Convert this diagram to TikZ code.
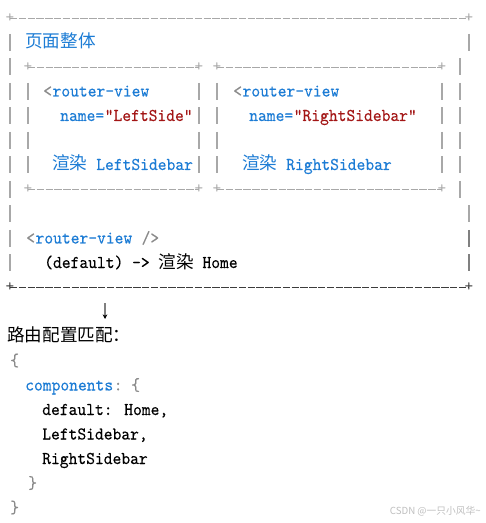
\documentclass[tikz,border=0pt]{standalone}
\usepackage{fontspec}
\usepackage{xcolor}
\usepackage{tikz}
\usetikzlibrary{arrows.meta}
\newfontfamily\cjkfont{Noto Sans CJK SC}
\newfontfamily\codefont{lmmono10-regular}[Extension=.otf,FakeStretch=0.93,FakeBold=0.2]
\newcommand{\zh}[1]{{\cjkfont\fontsize{13.2pt}{15pt}\selectfont #1}}
\definecolor{codeblue}{HTML}{1C7CD5}
\definecolor{codered}{HTML}{A31515}
\definecolor{rulegray}{HTML}{A8A8A8}
\definecolor{punctgray}{HTML}{8A8A8A}
\definecolor{darkrule}{HTML}{3C3C3C}

\begin{document}
\begin{tikzpicture}[
    x=0.75pt,y=-0.75pt,
    txt/.style={anchor=base west,inner sep=0pt,font=\codefont\fontsize{13.5pt}{15pt}\selectfont},
    corner/.style={inner sep=0pt,font=\ttfamily\fontsize{12.57pt}{15pt}\selectfont,text=rulegray},
    border/.style={draw=rulegray,line width=0.7pt,dash pattern=on 5.6pt off 1pt},
    bar/.style={draw=rulegray,line width=0.8pt},
  ]
    \fill[white] (0,0) rectangle (485,523);
    \useasboundingbox (0,0) rectangle (485,523);

    \node[corner] (tl) at (10,18) {+};
    \node[corner] (tr) at (469,18) {+};
    \draw[border] (tl.center) -- (tr.center);
    \node[corner,text=darkrule] (bl) at (10,287.5) {+};
    \node[corner,text=darkrule] (br) at (469,287.5) {+};
    \draw[border,draw=darkrule] (bl.center) -- (br.center);

    \node[corner] (lbox1) at (28,67) {+};
    \node[corner] (lbox2) at (199,67) {+};
    \node[corner] (lbox3) at (28,189.5) {+};
    \node[corner] (lbox4) at (199,189.5) {+};
    \node[corner] (rbox1) at (217,67) {+};
    \node[corner] (rbox2) at (442,67) {+};
    \node[corner] (rbox3) at (217,189.5) {+};
    \node[corner] (rbox4) at (442,189.5) {+};
    \draw[border] (lbox1.center) -- (lbox2.center);
    \draw[border] (lbox3.center) -- (lbox4.center);
    \draw[border] (rbox1.center) -- (rbox2.center);
    \draw[border] (rbox3.center) -- (rbox4.center);

    \foreach \r in {2,...,11}
      \draw[bar] (10,{18+24.5*(\r-1)-8.5}) -- ++(0,17);
    \foreach \r in {3,...,8}
      \draw[bar] (460,{18+24.5*(\r-1)-8.5}) -- ++(0,17);
    \foreach \r in {2,9}
      \draw[bar] (469,{18+24.5*(\r-1)-8.5}) -- ++(0,17);
    \foreach \r in {10,11}
      \draw[bar,draw=gray] (469,{18+24.5*(\r-1)-8.5}) -- ++(0,17);
    \foreach \x in {28,199,217,442}
      \foreach \r in {4,...,7}
        \draw[bar] (\x,{18+24.5*(\r-1)-8.5}) -- ++(0,17);

    \node[txt,text=codeblue] (title) at (25,47.5) {\zh{页面整体}};

    \node[txt,text=punctgray] (lopen) at (43,96.5) {<};
    \node[txt,text=codeblue] (lview) at (lopen.base east) {router-view};
    \node[txt,text=codeblue] (lname) at (60,121) {name=};
    \node[txt,text=codered] (lvalue) at (lname.base east) {"LeftSide"};
    \node[txt,text=codeblue] (lrender) at (52,170) {\zh{渲染} LeftSidebar};

    \node[txt,text=punctgray] (ropen) at (233,96.5) {<};
    \node[txt,text=codeblue] (rview) at (ropen.base east) {router-view};
    \node[txt,text=codeblue] (rname) at (249,121) {name=};
    \node[txt,text=codered] (rvalue) at (rname.base east) {"RightSidebar"};
    \node[txt,text=codeblue] (rrender) at (242,170) {\zh{渲染} RightSidebar};

    \node[txt,text=punctgray] (mopen) at (26,243.5) {<};
    \node[txt,text=codeblue] (mview) at (mopen.base east) {router-view};
    \node[txt,text=punctgray] (mclose) at (mview.base east) {\ />};
    \node[txt] (mrender) at (44,268) {(default) -> \zh{渲染} Home};

    \coordinate (arrtop) at (105,303);
    \coordinate (arrbot) at (105,319);
    \draw[-{Stealth[length=3.5pt,width=3.5pt,color=black]},draw=gray,line width=0.8pt] (arrtop) -- (arrbot);

    \node[txt] (match) at (7,341.5) {\zh{路由配置匹配：}};
    \node[txt,text=punctgray] (open1) at (10,366) {\{};
    \node[txt,text=codeblue] (comps) at (25,390.5) {components};
    \node[txt,text=punctgray] (open2) at (comps.base east) {:\ \{};
    \node[txt] (defhome) at (42,415) {default: Home,};
    \node[txt] (leftsb) at (42,439.5) {LeftSidebar,};
    \node[txt] (rightsb) at (42,464) {RightSidebar};
    \node[txt,text=punctgray] (close2) at (28,488.5) {\}};
    \node[txt,text=punctgray] (close1) at (10,513) {\}};

    \node[anchor=east,inner sep=0pt,font=\cjkfont\fontsize{7.3pt}{9pt}\selectfont,text=black!25] (mark) at (481,511) {CSDN @一只小风华\textasciitilde};
  \end{tikzpicture}
\end{document}
